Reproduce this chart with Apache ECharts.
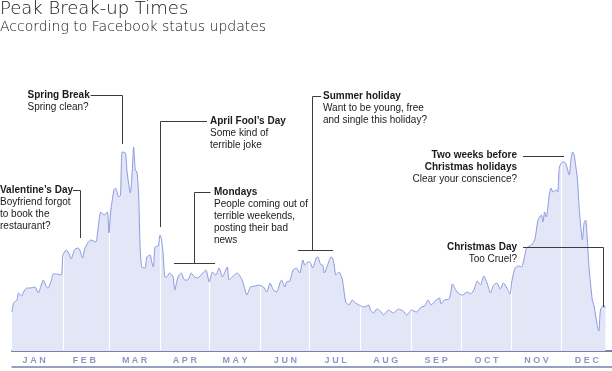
<!DOCTYPE html>
<html>
<head>
<meta charset="utf-8">
<script src="https://cdn.jsdelivr.net/npm/echarts@6/dist/echarts.min.js"></script>
<style>
html,body{margin:0;padding:0;background:#fff;}
#chart{width:612px;height:371px;}
</style>
</head>
<body>
<div id="chart"></div>
<script>
// Day of year (0 = 1 Jan) and relative volume of break-up status updates
const days = [0,1,3,4,6,7,9,11,14,16,18,19,21,22,24,25,27,30,
  31,33,35,36,38,40,41,43,44,46,48,51,52,54,56,58,59,
  60,62,63,65,66,67,69,70,72,73,74,75,76,77,78,79,81,82,84,85,86,87,89,90,
  91,92,93,94,96,98,99,101,103,105,107,109,111,113,116,118,120,
  122,124,126,128,129,131,132,134,137,140,143,145,148,150,
  153,155,157,159,161,163,164,166,167,169,171,173,175,177,178,180,
  181,183,185,186,188,189,190,192,194,195,196,197,199,201,203,205,207,209,211,
  214,217,218,220,222,224,226,229,232,235,238,240,242,
  243,246,249,251,253,255,258,260,261,263,266,268,270,272,
  274,277,279,281,283,285,287,289,291,293,295,297,299,301,303,
  304,306,308,310,312,313,316,318,320,322,323,324,325,327,328,329,331,332,333,
  335,336,337,339,340,341,342,344,345,347,348,349,350,351,353,354,356,357,358,360,361];
const values = [39,48,51,58,55,59,63,63,64,58,67,71,64,63,71,77,77,76,
  96,101,96,92,101,103,102,93,101,108,111,109,118,139,136,139,118,
  139,161,163,154,156,199,198,179,158,176,204,181,179,158,101,84,83,94,96,89,84,104,105,116,
  111,96,74,74,78,74,61,74,78,71,71,78,74,73,78,81,69,
  79,76,83,74,77,84,71,74,78,71,56,64,65,66,
  64,59,68,61,59,68,71,64,69,70,81,83,78,91,86,89,
  89,83,93,94,86,86,78,86,94,93,86,76,79,71,49,46,51,48,46,
  44,46,41,38,42,40,36,41,38,42,40,36,39,
  41,39,44,45,51,46,51,53,47,51,52,67,61,57,
  56,59,57,61,70,66,75,68,58,66,68,62,68,63,57,
  69,83,85,84,96,103,106,111,131,136,129,139,134,158,163,159,161,159,184,
  189,189,187,176,191,199,196,171,144,111,128,131,111,84,51,46,26,20,41,46,43];
const months = ['JAN','FEB','MAR','APR','MAY','JUN','JUL','AUG','SEP','OCT','NOV','DEC'];
const monthStarts = [31,59,90,120,151,181,212,243,273,304,334];

const series = days.map((d, i) => [d, values[i]]);

const chart = echarts.init(document.getElementById('chart'), null, {renderer: 'canvas'});

const TXT = '"Liberation Sans", Arial, sans-serif';
const HEAD = '"DejaVu Sans", "Noto Sans", sans-serif';
const ink = '#1a1a1a';
const leader = '#3c3c3c';

function bold(x, y, text, align) {
  return {type: 'text', z: 100, style: {x: x, y: y, text: text, fill: ink,
    font: 'bold 10px ' + TXT, textAlign: align || 'left', textVerticalAlign: 'middle',
    align: align || 'left', verticalAlign: 'middle', lineHeight: 11.6}};
}
function plain(x, y, text, align) {
  return {type: 'text', z: 100, style: {x: x, y: y, text: text, fill: ink,
    font: '10px ' + TXT, textAlign: align || 'left', textVerticalAlign: 'top',
    align: align || 'left', verticalAlign: 'top', lineHeight: 12}};
}
function pl(points) {
  return {type: 'polyline', z: 100, shape: {points: points},
    style: {stroke: leader, lineWidth: 1, fill: null}};
}

const graphics = [
  {type: 'text', z: 100, style: {x: 0, y: 9, text: 'Peak Break-up Times', fill: '#111',
    font: '200 18px ' + HEAD, textVerticalAlign: 'middle', verticalAlign: 'middle'}},
  {type: 'text', z: 100, style: {x: 0, y: 27, text: 'According to Facebook status updates', fill: '#111',
    font: '200 14px ' + HEAD, textVerticalAlign: 'middle', verticalAlign: 'middle'}},

  bold(0, 190, 'Valentine\u2019s Day'),
  plain(0, 196, 'Boyfriend forgot\nto book the\nrestaurant?'),
  pl([[73, 190.5], [80.5, 190.5], [80.5, 238]]),

  bold(27.5, 95, 'Spring Break'),
  plain(27.5, 101, 'Spring clean?'),
  pl([[90.5, 95.5], [122.5, 95.5], [122.5, 144]]),

  bold(210, 121, 'April Fool\u2019s Day'),
  plain(210, 127, 'Some kind of\nterrible joke'),
  pl([[207, 121.5], [160.5, 121.5], [160.5, 227]]),

  bold(214, 192, 'Mondays'),
  plain(214, 198, 'People coming out of\nterrible weekends,\nposting their bad\nnews'),
  pl([[210.5, 192.5], [194.5, 192.5], [194.5, 263.5]]),
  pl([[174, 263.5], [215, 263.5]]),

  bold(323, 96, 'Summer holiday'),
  plain(323, 102, 'Want to be young, free\nand single this holiday?'),
  pl([[321, 96.5], [312.5, 96.5], [312.5, 250.5]]),
  pl([[298, 250.5], [333, 250.5]]),

  bold(517, 161.5, 'Two weeks before\nChristmas holidays', 'right'),
  plain(517, 173, 'Clear your conscience?', 'right'),
  pl([[523, 156.5], [564, 156.5]]),

  bold(517, 247.5, 'Christmas Day', 'right'),
  plain(517, 253.5, 'Too Cruel?', 'right'),
  pl([[523, 247.5], [603.5, 247.5], [603.5, 307]])
];

chart.setOption({
  animation: false,
  backgroundColor: '#ffffff',
  grid: [
    {left: 12, right: -5, top: 41, bottom: 20},
    {left: 9, right: -3, top: 351, bottom: 4}
  ],
  xAxis: [
    {type: 'value', gridIndex: 0, min: 0, max: 365,
      axisLine: {show: true, lineStyle: {color: '#7880b0', width: 2}},
      axisTick: {show: false}, axisLabel: {show: false}, splitLine: {show: false}},
    {type: 'value', gridIndex: 0, min: 0, max: 365, position: 'bottom', offset: 16,
      axisLine: {show: true, lineStyle: {color: '#7880b0', width: 1.5}},
      axisTick: {show: false}, axisLabel: {show: false}, splitLine: {show: false}},
    {type: 'category', gridIndex: 1, data: months, boundaryGap: true,
      axisLine: {show: false}, axisTick: {show: false}, splitLine: {show: false},
      axisLabel: {inside: true, margin: 2, color: '#8e96c9', fontWeight: 'bold', fontSize: 9,
        fontFamily: TXT, formatter: v => v.split('').join(' ')}}
  ],
  yAxis: [
    {type: 'value', gridIndex: 0, min: 0, max: 310, show: false},
    {type: 'value', gridIndex: 1, show: false}
  ],
  series: [
    {type: 'line', xAxisIndex: 0, yAxisIndex: 0, data: series, smooth: 0.2,
      symbol: 'none', z: 2, silent: true,
      lineStyle: {width: 0, opacity: 0},
      areaStyle: {color: '#e3e6f6', opacity: 1},
      markLine: {silent: true, symbol: 'none', animation: false,
        label: {show: false},
        lineStyle: {color: '#ffffff', width: 1.2, type: 'solid'},
        emphasis: {disabled: true},
        data: monthStarts.map(d => [{coord: [d, 0.8]}, {coord: [d, 310]}])}},
    {type: 'line', xAxisIndex: 0, yAxisIndex: 0, data: series, smooth: 0.2,
      symbol: 'none', z: 5, silent: true,
      lineStyle: {color: '#8d9ae0', width: 1}}
  ],
  graphic: graphics
});
</script>
</body>
</html>
